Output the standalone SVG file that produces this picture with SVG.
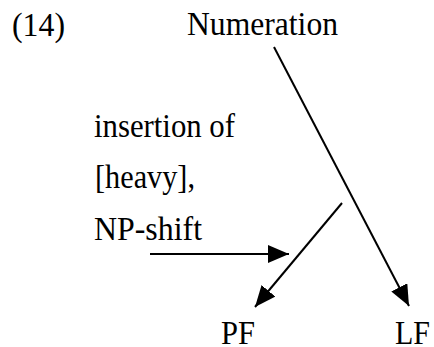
<svg xmlns="http://www.w3.org/2000/svg" width="434" height="347" viewBox="0 0 434 347">
<defs>
<marker id="ah" markerUnits="userSpaceOnUse" markerWidth="21" markerHeight="18" refX="21" refY="9" orient="auto" viewBox="0 0 21 18">
<path d="M0,0 L21,9 L0,18 z" fill="#000"/>
</marker>
</defs>
<rect width="434" height="347" fill="#fff"/>
<g font-family="'Liberation Serif', 'Times New Roman', serif" font-size="34" fill="#000">
<g id="label14"><text x="12" y="36" textLength="53" lengthAdjust="spacingAndGlyphs">(14)</text></g>
<g id="numeration"><text x="187" y="35" textLength="151" lengthAdjust="spacingAndGlyphs">Numeration</text></g>
<g id="insertion">
<text x="94" y="137" textLength="141" lengthAdjust="spacingAndGlyphs">insertion of</text>
<text x="95" y="188" textLength="100" lengthAdjust="spacingAndGlyphs">[heavy],</text>
<text x="94" y="240" textLength="108" lengthAdjust="spacingAndGlyphs">NP-shift</text>
</g>
<g id="pf"><text x="221" y="344" textLength="34" lengthAdjust="spacingAndGlyphs">PF</text></g>
<g id="lf"><text x="395" y="344" textLength="35" lengthAdjust="spacingAndGlyphs">LF</text></g>
</g>
<g id="connectors" stroke="#000" stroke-width="2" fill="none">
<line x1="274" y1="47" x2="409" y2="306" marker-end="url(#ah)"/>
<line x1="342" y1="203" x2="255" y2="307" marker-end="url(#ah)"/>
<line x1="150" y1="254" x2="289" y2="254" marker-end="url(#ah)"/>
</g>
</svg>
